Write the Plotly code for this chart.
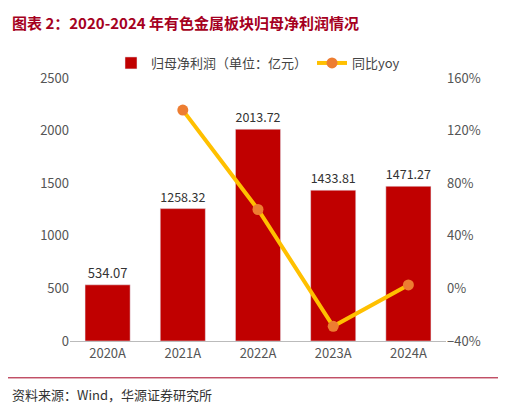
import plotly.graph_objects as go

years = ["2020A", "2021A", "2022A", "2023A", "2024A"]
profit = [534.07, 1258.32, 2013.72, 1433.81, 1471.27]
yoy_years = ["2021A", "2022A", "2023A", "2024A"]
yoy = [135.6, 60.0, -28.8, 2.6]

fig = go.Figure()
fig.add_bar(x=years, y=profit, name="归母净利润（单位：亿元）", marker_color="#C00000",
            width=0.6, text=[f"{v:.2f}" for v in profit], textposition="outside",
            textfont=dict(size=13, color="#333"), cliponaxis=False)
fig.add_scatter(x=yoy_years, y=yoy, name="同比yoy", yaxis="y2", mode="lines+markers",
                line=dict(color="#FFC000", width=4),
                marker=dict(color="#ED7D31", size=11))
fig.update_layout(
    width=506, height=413, plot_bgcolor="white", paper_bgcolor="white",
    font=dict(family="Noto Sans CJK SC", size=12, color="#555"),
    margin=dict(l=62, r=68, t=70, b=80),
    showlegend=True,
    legend=dict(orientation="h", x=0.5, xanchor="center", y=1.0, yanchor="bottom",
                font=dict(size=13, color="#444")),
    xaxis=dict(showline=True, linecolor="#bbb", ticks="", tickfont=dict(size=13)),
    yaxis=dict(range=[0, 2500], dtick=500, showgrid=False, showline=False, ticks="",
               tickfont=dict(size=13)),
    yaxis2=dict(overlaying="y", side="right", range=[-40, 160], dtick=40,
                ticksuffix="%", showgrid=False, tickfont=dict(size=13)),
    annotations=[
        dict(text="<b>图表 2：2020-2024 年有色金属板块归母净利润情况</b>", x=0, y=1,
             xref="paper", yref="paper", xanchor="left", yanchor="top",
             font=dict(size=15, color="#A50021"), showarrow=False,
             xshift=-60, yshift=68),
        dict(text="资料来源：Wind，华源证券研究所", x=0, y=0, xref="paper", yref="paper",
             xanchor="left", yanchor="top", font=dict(size=13, color="#333"),
             showarrow=False, xshift=-60, yshift=-42),
    ],
    shapes=[
        dict(type="line", xref="paper", yref="paper", x0=-0.17, x1=1.17, y0=-0.14, y1=-0.14,
             line=dict(color="#A50021", width=1)),
    ],
)
fig.write_html("out.html")
